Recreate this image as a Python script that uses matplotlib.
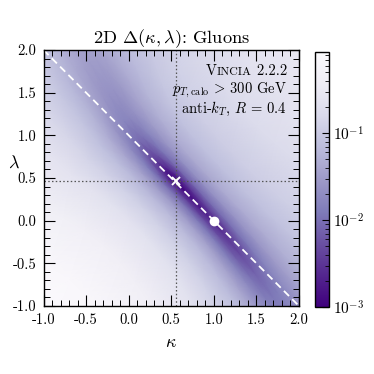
import numpy as np
import matplotlib
matplotlib.use("Agg")
import matplotlib.pyplot as plt
from matplotlib.colors import LogNorm
from matplotlib.ticker import MultipleLocator, LogLocator, NullFormatter, FormatStrFormatter

plt.rcParams['font.family'] = 'serif'
plt.rcParams['font.serif'] = ['cmr10', 'DejaVu Serif']
plt.rcParams['mathtext.fontset'] = 'cm'
plt.rcParams['axes.unicode_minus'] = False
plt.rcParams['axes.formatter.use_mathtext'] = True

# ---- data ----
# Profile of Delta across the valley (u in kappa+lambda units);
# the lower-left side (negative u) rises faster than the upper-right side.
across_u = [-3.3, -2.4, -1.6, -1.0, -0.7, -0.45, -0.3, -0.17, -0.08, 0.0,
            0.08, 0.17, 0.3, 0.45, 0.7, 1.0, 1.6, 2.4, 3.3]
across_delta = [1.0, 0.7, 0.42, 0.22, 0.12, 0.06, 0.03, 0.01, 0.003, 0.0008,
                0.0025, 0.008, 0.022, 0.042, 0.075, 0.11, 0.17, 0.25, 0.33]
# Along the valley (v = kappa - lambda): extra Delta, valley-centre shift and widening
along_v = [-3.4, -2.8, -2.3, -1.7, -1.2, -0.8, -0.4, 0.0, 0.4, 0.8, 1.2, 1.7, 2.1, 2.6, 3.2]
along_delta = [0.05, 0.04, 0.03, 0.022, 0.015, 0.008, 0.003, 0.0, 0.0005, 0.0012,
               0.002, 0.004, 0.007, 0.011, 0.016]
valley_shift = [0.7, 0.55, 0.4, 0.25, 0.12, 0.06, 0.03, 0.02, 0.01, -0.01,
                -0.03, -0.08, -0.13, -0.2, -0.3]
valley_width = [2.0, 1.8, 1.6, 1.4, 1.25, 1.12, 1.04, 1.0, 1.0, 1.02,
                1.06, 1.15, 1.25, 1.4, 1.6]

best_point = (0.55, 0.46)     # x marker, dotted guide lines
default_point = (1.0, 0.0)    # white dot
line_kappa = [-1.0, 2.0]      # dashed line lambda = 1 - kappa
line_lambda = [2.0, -1.0]

cbar_min, cbar_max = 1e-3, 0.87

# ---- mesh in rotated coordinates ----
au = np.array(across_u)
U = au[:, None] * np.array(valley_width)[None, :] + np.array(valley_shift)[None, :]
V = np.broadcast_to(np.array(along_v)[None, :], U.shape)
D = np.add.outer(np.array(across_delta), np.array(along_delta))
K = (U + 1.0 + V) / 2.0
L = (U + 1.0 - V) / 2.0

fig = plt.figure(figsize=(3.74, 3.74), dpi=100)
W = 374.0
ax = fig.add_axes([43.5 / W, 1 - 306 / W, (299 - 43.5) / W, (306 - 50) / W])
cax = fig.add_axes([315 / W, 1 - 307 / W, 13.5 / W, (307 - 51.5) / W])

norm = LogNorm(vmin=cbar_min, vmax=cbar_max)
mesh = ax.pcolormesh(K, L, np.clip(D, cbar_min, cbar_max), cmap='Purples_r', norm=norm,
                     shading='gouraud', rasterized=True)

ax.plot(line_kappa, line_lambda, color='white', ls=(0, (4, 2.5)), lw=1.3)
ax.axvline(best_point[0], color='#555555', ls=(0, (1.2, 1.8)), lw=0.9)
ax.axhline(best_point[1], color='#555555', ls=(0, (1.2, 1.8)), lw=0.9)
ax.plot([best_point[0]], [best_point[1]], marker='x', color='white', ms=5.5, mew=1.4)
ax.plot([default_point[0]], [default_point[1]], marker='o', color='white', ms=6, mec='white')

ax.set_xlim(-1, 2)
ax.set_ylim(-1, 2)
ax.xaxis.set_major_locator(MultipleLocator(0.5))
ax.yaxis.set_major_locator(MultipleLocator(0.5))
ax.xaxis.set_minor_locator(MultipleLocator(0.1))
ax.yaxis.set_minor_locator(MultipleLocator(0.1))
ax.tick_params(which='both', direction='in', top=True, right=True, labelsize=10.5)
ax.tick_params(which='major', length=8, width=0.8, pad=5)
ax.tick_params(which='minor', length=4, width=0.7)
ax.xaxis.set_major_formatter(FormatStrFormatter('%.1f'))
ax.yaxis.set_major_formatter(FormatStrFormatter('%.1f'))
for s in ax.spines.values():
    s.set_linewidth(1.0)

ax.set_xlabel(r'$\kappa$', fontsize=13, labelpad=6)
ax.set_ylabel(r'$\lambda$', fontsize=13, rotation=0, va='center')
ax.yaxis.set_label_coords(-0.115, 0.56)
ax.set_title(r'2D $\Delta(\kappa,\lambda)$: Gluons', fontsize=13.2, pad=2.5)

# annotation block (right aligned)
xr = 287 / W
fig.text(xr, 1 - 93.3 / W, r'$p_{T,\mathrm{calo}}\,>\,300$ GeV', ha='right', va='baseline', fontsize=10.5)
fig.text(xr, 1 - 112.5 / W, r'anti-$k_T$, $R$ = 0.4', ha='right', va='baseline', fontsize=10.5)
# small caps "Vincia 2.2.2"
fig.canvas.draw()
r = fig.canvas.get_renderer()
parts = [('V', 10.5), ('INCIA', 8.6), (' 2.2.2', 10.5)]
tmp = [fig.text(0, 0, p, fontsize=fs) for p, fs in parts]
widths = [t.get_window_extent(r).width for t in tmp]
for t in tmp:
    t.remove()
x = 287 - sum(widths)
for (p, fs), w in zip(parts, widths):
    fig.text(x / W, 1 - 74.8 / W, p, fontsize=fs, ha='left', va='baseline')
    x += w

cb = fig.colorbar(mesh, cax=cax)
cb.outline.set_linewidth(1.0)
cax.yaxis.set_major_locator(LogLocator(base=10, numticks=10))
cax.yaxis.set_minor_locator(LogLocator(base=10, subs=np.arange(2, 10), numticks=10))
cax.yaxis.set_minor_formatter(NullFormatter())
cax.tick_params(which='both', direction='in', right=True, labelsize=11)
cax.tick_params(which='major', length=5, width=0.8)
cax.tick_params(which='minor', length=3, width=0.6)

fig.savefig('out.png', dpi=100)
